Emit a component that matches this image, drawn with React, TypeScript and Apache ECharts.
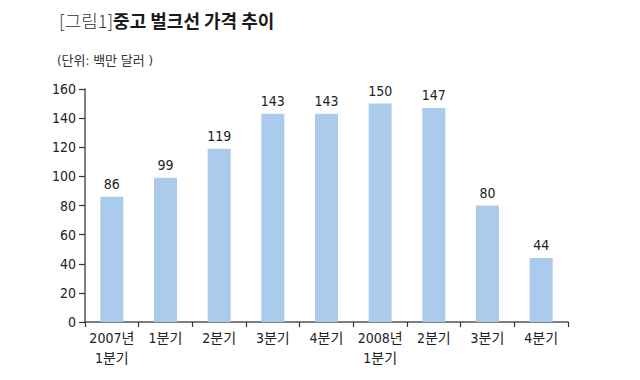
import React, { useEffect, useRef } from "react";
import * as echarts from "echarts";

const categories = ["2007년\n1분기", "1분기", "2분기", "3분기", "4분기", "2008년\n1분기", "2분기", "3분기", "4분기"];
const prices = [86, 99, 119, 143, 143, 150, 147, 80, 44];
const yTicks = [0, 20, 40, 60, 80, 100, 120, 140, 160];

const FONT = "'DejaVu Sans Condensed', 'Noto Sans CJK KR', sans-serif";

export default function App() {
  const ref = useRef<HTMLDivElement>(null);
  useEffect(() => {
    if (!ref.current) return;
    const chart = echarts.init(ref.current, undefined, { renderer: "svg" });
    chart.setOption({
      animation: false,
      backgroundColor: "#ffffff",
      title: [
        {
          text: "{a|[그림1]}{b|중고 벌크선 가격 추이}",
          left: 54,
          top: 6,
          textStyle: {
            rich: {
              a: { fontSize: 18, color: "#333", fontFamily: "'Noto Sans CJK KR', sans-serif", fontWeight: 300 },
              b: { fontSize: 18, color: "#1a1a1a", fontFamily: "'Noto Sans CJK KR', sans-serif", fontWeight: 700 },
            },
          },
        },
        {
          text: "(단위: 백만 달러 )",
          left: 52,
          top: 49,
          textStyle: { fontSize: 13, color: "#333", fontWeight: 400, fontFamily: FONT },
        },
      ],
      grid: { left: 85, right: 72, top: 89, bottom: 58, containLabel: false },
      xAxis: {
        type: "category",
        data: categories,
        axisLine: { lineStyle: { color: "#555", width: 1.5 } },
        axisTick: { show: true, alignWithLabel: false, length: 5, lineStyle: { color: "#333", width: 1.2 } },
        axisLabel: { color: "#222", fontSize: 14, fontFamily: FONT, lineHeight: 20, margin: 6, interval: 0 },
      },
      yAxis: {
        type: "value",
        min: yTicks[0],
        max: yTicks[yTicks.length - 1],
        interval: 20,
        splitLine: { show: false },
        axisLine: { show: true, lineStyle: { color: "#555", width: 1.5 } },
        axisTick: { show: true, length: 6, lineStyle: { color: "#333", width: 1.2 } },
        axisLabel: { color: "#222", fontSize: 14, fontFamily: FONT, margin: 9 },
      },
      series: [
        {
          type: "bar",
          data: prices,
          barWidth: 23,
          itemStyle: { color: "#aacbec" },
          label: { show: true, position: "top", distance: 6, color: "#222", fontSize: 14, fontFamily: FONT },
        },
      ],
    });
    return () => chart.dispose();
  }, []);
  return <div ref={ref} style={{ width: 640, height: 380, position: "absolute", left: 0, top: 0 }} />;
}
